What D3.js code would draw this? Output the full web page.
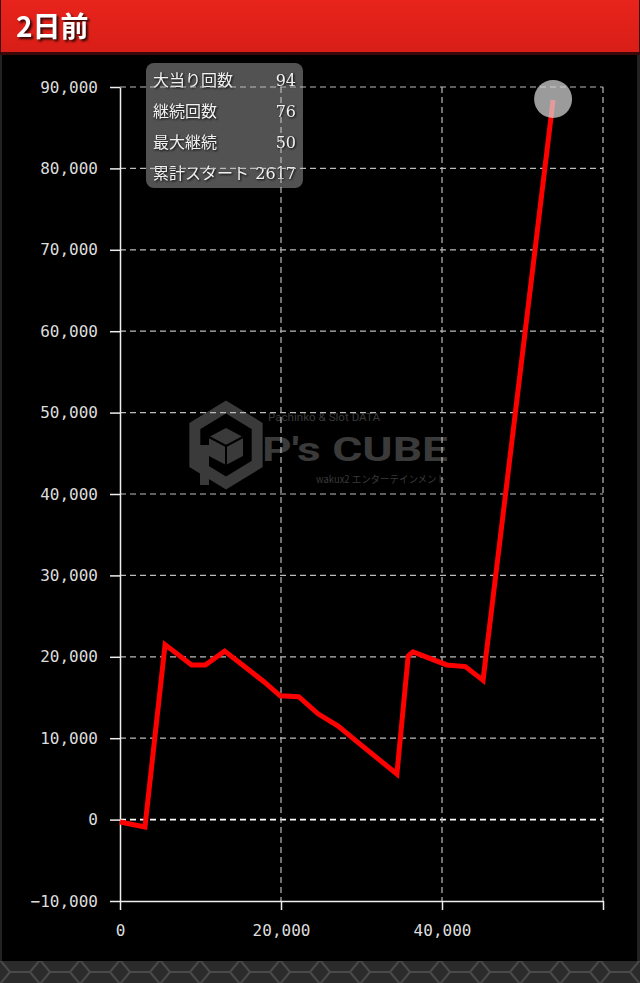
<!DOCTYPE html>
<html>
<head>
<meta charset="utf-8">
<script src="https://cdn.jsdelivr.net/npm/d3@7.9.0/dist/d3.min.js"></script>
<style>
  body { margin: 0; background: #1a1a1a; }
  svg { display: block; }
  .axis text { font-family: "DejaVu Sans Mono", monospace; font-size: 16px; fill: #ddd; }
  .axis path, .axis line { stroke: #eee; stroke-width: 1.5; }
  .info text { font-family: "DejaVu Serif", "Liberation Serif", "Noto Sans CJK JP", serif; font-size: 16px; fill: #f2f2f2; }
</style>
</head>
<body>
<div id="chart"></div>
<script>
// cumulative spins vs. balls difference
const spins = [0, 3100, 5600, 8900, 10600, 13000, 17800, 19900, 22200, 24600, 27100, 29400, 34400, 35800, 36400, 40600, 42900, 45100, 53800];
const diff = [-300, -900, 21500, 19000, 19000, 20700, 17000, 15200, 15100, 13000, 11500, 9600, 5600, 20100, 20600, 19000, 18800, 17100, 88400];

const xTicks = [0, 20000, 40000, 60000];
const yTicks = [-10000, 0, 10000, 20000, 30000, 40000, 50000, 60000, 70000, 80000, 90000];

const infoLabels = ["大当り回数", "継続回数", "最大継続", "累計スタート"];
const infoValues = ["94", "76", "50", "2617"];

const title = "2日前";

const width = 640;
const height = 983;

const svg = d3.select('#chart').append('svg')
    .attr('width', width)
    .attr('height', height);

const defs = svg.append('defs');
const hdr = defs.append('linearGradient').attr('id', 'hdr').attr('x1', 0).attr('y1', 0).attr('x2', 0).attr('y2', 1);
hdr.append('stop').attr('offset', '0%').attr('stop-color', '#e8241c');
hdr.append('stop').attr('offset', '100%').attr('stop-color', '#d81e17');

const pat = defs.append('pattern').attr('id', 'hex')
    .attr('width', 40).attr('height', 24).attr('patternUnits', 'userSpaceOnUse');
pat.append('rect').attr('width', 40).attr('height', 24).attr('fill', '#2b2b2b');
pat.append('path').attr('d', 'M0,0 L10,12 L0,24 M10,12 L30,12 M30,12 L40,0 M30,12 L40,24')
    .attr('stroke', '#4a4a4a').attr('stroke-width', 2).attr('fill', 'none');

// panel + bottom strip
svg.append('rect').attr('x', 0).attr('y', 0).attr('width', width).attr('height', height).attr('fill', '#222');
svg.append('rect').attr('x', 2).attr('y', 52).attr('width', 635).attr('height', 909).attr('fill', '#000');
svg.append('rect').attr('x', 0).attr('y', 961).attr('width', width).attr('height', 22).attr('fill', 'url(#hex)');

// header
svg.append('rect').attr('x', 0).attr('y', 0).attr('width', width).attr('height', 55).attr('fill', '#3a0808');
svg.append('rect').attr('x', 1).attr('y', 0).attr('width', 638).attr('height', 52).attr('fill', 'url(#hdr)');
svg.append('text').attr('x', 16).attr('y', 37).text(title)
    .attr('font-family', '"Noto Sans CJK JP", sans-serif')
    .attr('font-weight', 'bold').attr('font-size', 28)
    .attr('fill', '#fff')
    .style('filter', 'drop-shadow(2px 2px 1px rgba(0,0,0,0.8))');

const x = d3.scaleLinear().domain([0, 60000]).range([120, 603]);
const y = d3.scaleLinear().domain([-10000, 90000]).range([901, 87]);

// watermark logo
const logo = svg.append('g').attr('fill', '#3a3a3a').attr('stroke', 'none');
const hexPts = d3.range(6).map(i => {
  const a = Math.PI / 3 * i - Math.PI / 2;
  return [226 + 36 * Math.cos(a), 445 + 38 * Math.sin(a)];
});
logo.append('path').attr('d', 'M' + hexPts.join('L') + 'Z')
    .attr('fill', 'none').attr('stroke', '#3a3a3a').attr('stroke-width', 11);
logo.append('path').attr('d', 'M226,428 L243,437 L243,456 L226,465 L209,456 L209,437 Z').attr('fill', '#3a3a3a');
logo.append('path').attr('d', 'M209,437 L226,446 L243,437 M226,446 L226,465')
    .attr('stroke', '#000').attr('stroke-width', 2).attr('fill', 'none');
logo.append('rect').attr('x', 200).attr('y', 445).attr('width', 9).attr('height', 40);
logo.append('text').attr('x', 262).attr('y', 461).text("P's CUBE")
    .attr('font-family', 'Roboto, sans-serif').attr('font-weight', 'bold').attr('font-size', 33)
    .attr('textLength', 186).attr('lengthAdjust', 'spacingAndGlyphs');
logo.append('text').attr('x', 268).attr('y', 421).text('Pachinko & Slot DATA')
    .attr('font-family', 'Roboto, sans-serif').attr('font-size', 10)
    .attr('textLength', 112).attr('lengthAdjust', 'spacingAndGlyphs');
logo.append('text').attr('x', 316).attr('y', 483).text('wakux2 エンターテインメント')
    .attr('font-family', '"Noto Sans CJK JP", sans-serif').attr('font-size', 10)
    .attr('textLength', 130).attr('lengthAdjust', 'spacingAndGlyphs');

// info box
const info = svg.append('g').attr('class', 'info');
info.append('rect').attr('x', 146).attr('y', 63).attr('width', 157).attr('height', 125)
    .attr('rx', 8).attr('fill', 'rgba(110,110,110,0.75)');

// grid
const grid = svg.append('g');
grid.selectAll('.hg').data(yTicks.filter(d => d !== -10000)).join('line')
    .attr('x1', x(0)).attr('x2', x(60000))
    .attr('y1', d => y(d)).attr('y2', d => y(d))
    .attr('stroke', d => d === 0 ? '#fff' : '#bbb')
    .attr('stroke-width', d => d === 0 ? 1.8 : 1.2)
    .attr('stroke-dasharray', '6,4');
grid.selectAll('.vg').data(xTicks.filter(d => d !== 0)).join('line')
    .attr('x1', d => x(d)).attr('x2', d => x(d))
    .attr('y1', y(90000)).attr('y2', y(-10000))
    .attr('stroke', '#bbb').attr('stroke-width', 1.2)
    .attr('stroke-dasharray', '6,4');

// info text
infoLabels.forEach((lab, i) => {
  const ty = 86 + i * 31;
  info.append('text').attr('x', 153).attr('y', ty).text(lab)
      .style('filter', 'drop-shadow(1px 1px 1px rgba(0,0,0,0.9))');
  info.append('text').attr('x', 296).attr('y', ty).attr('text-anchor', 'end').text(infoValues[i])
      .style('filter', 'drop-shadow(1px 1px 1px rgba(0,0,0,0.9))');
});

// axes
const fmt = d3.format(',');
svg.append('g').attr('class', 'axis')
    .attr('transform', `translate(0,${y(-10000)})`)
    .call(d3.axisBottom(x).tickValues(xTicks).tickSize(9).tickSizeOuter(0).tickPadding(15)
      .tickFormat(d => d === 60000 ? '' : fmt(d)));
svg.append('g').attr('class', 'axis')
    .attr('transform', `translate(${x(0)},0)`)
    .call(d3.axisLeft(y).tickValues(yTicks).tickSize(10).tickSizeOuter(0).tickPadding(12)
      .tickFormat(fmt));

// line
const pts = spins.map((s, i) => [s, diff[i]]);
svg.append('path').datum(pts)
    .attr('fill', 'none').attr('stroke', '#f00').attr('stroke-width', 5)
    .attr('stroke-linejoin', 'miter')
    .attr('d', d3.line().x(d => x(d[0])).y(d => y(d[1])));

const last = pts[pts.length - 1];
svg.append('circle').attr('cx', x(last[0])).attr('cy', y(last[1]) - 1).attr('r', 19)
    .attr('fill', 'rgba(215,215,215,0.72)');
</script>
</body>
</html>
